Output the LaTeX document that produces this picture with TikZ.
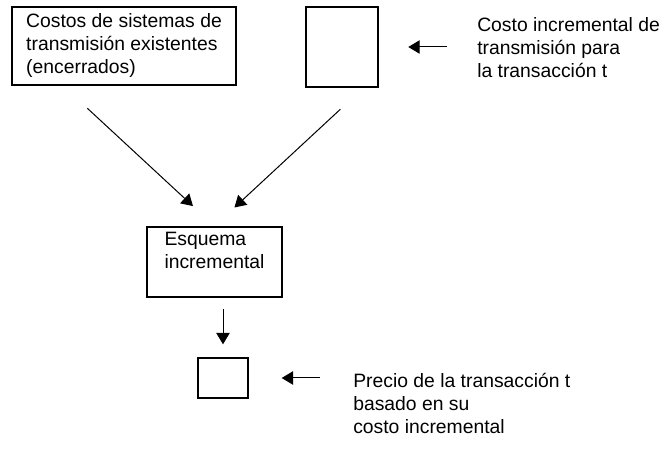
\documentclass[tikz,border=0pt]{standalone}
\usepackage{fontspec}
\setmainfont{Liberation Sans}
\usetikzlibrary{arrows.meta}
\begin{document}
\begin{tikzpicture}[x=0.75pt, y=-0.75pt,
  font=\fontsize{14.5}{17.25}\selectfont,
  caja/.style={draw, line width=1pt, inner sep=0pt, align=left},
  etiqueta/.style={anchor=west, align=left, inner sep=0pt},
  flecha/.style={-{Triangle[length=8.5pt, width=10pt]}, line width=0.75pt}]
\useasboundingbox (0,0) rectangle (662,466);
\node[caja, line width=1.1pt, minimum width=168pt, minimum height=58.5pt] (a) at (124,46) {Costos de sistemas de\\ transmisión existentes\\ (encerrados)};
\node[caja, line width=1.9pt, minimum width=54pt, minimum height=60pt] (b) at (342,47) {};
\node[etiqueta] (lb) at (477,48) {Costo incremental de\\ transmisión para\\ la transacción t};
\node[caja, line width=1.5pt, minimum width=101.25pt, minimum height=52.5pt] (c) at (214.5,262) {Esquema\hspace{14pt}\\ incremental\hspace{4pt}\\ \mbox{}};
\node[caja, minimum width=37.5pt, minimum height=30pt] (d) at (223,378) {};
\node[etiqueta] (ld) at (353,403) {Precio de la transacción t\\ basado en su\\ costo incremental};
\draw[flecha, shorten <=22.5pt, shorten >=21.75pt] (b.east -| lb.west) -- (b.east);
\draw[flecha, shorten <=24.9pt, shorten >=22pt] ([xshift=-45.75pt]a.south) -- (c.north);
\draw[flecha, shorten <=23.2pt, shorten >=20.4pt] ([xshift=15.75pt]b.south) -- (c.north);
\draw[flecha, shorten <=8.25pt, shorten >=9.75pt] (c.south -| d.north) -- (d.north);
\draw[flecha, shorten <=24.75pt, shorten >=24.75pt] (d.east -| ld.west) -- (d.east);
\end{tikzpicture}
\end{document}
